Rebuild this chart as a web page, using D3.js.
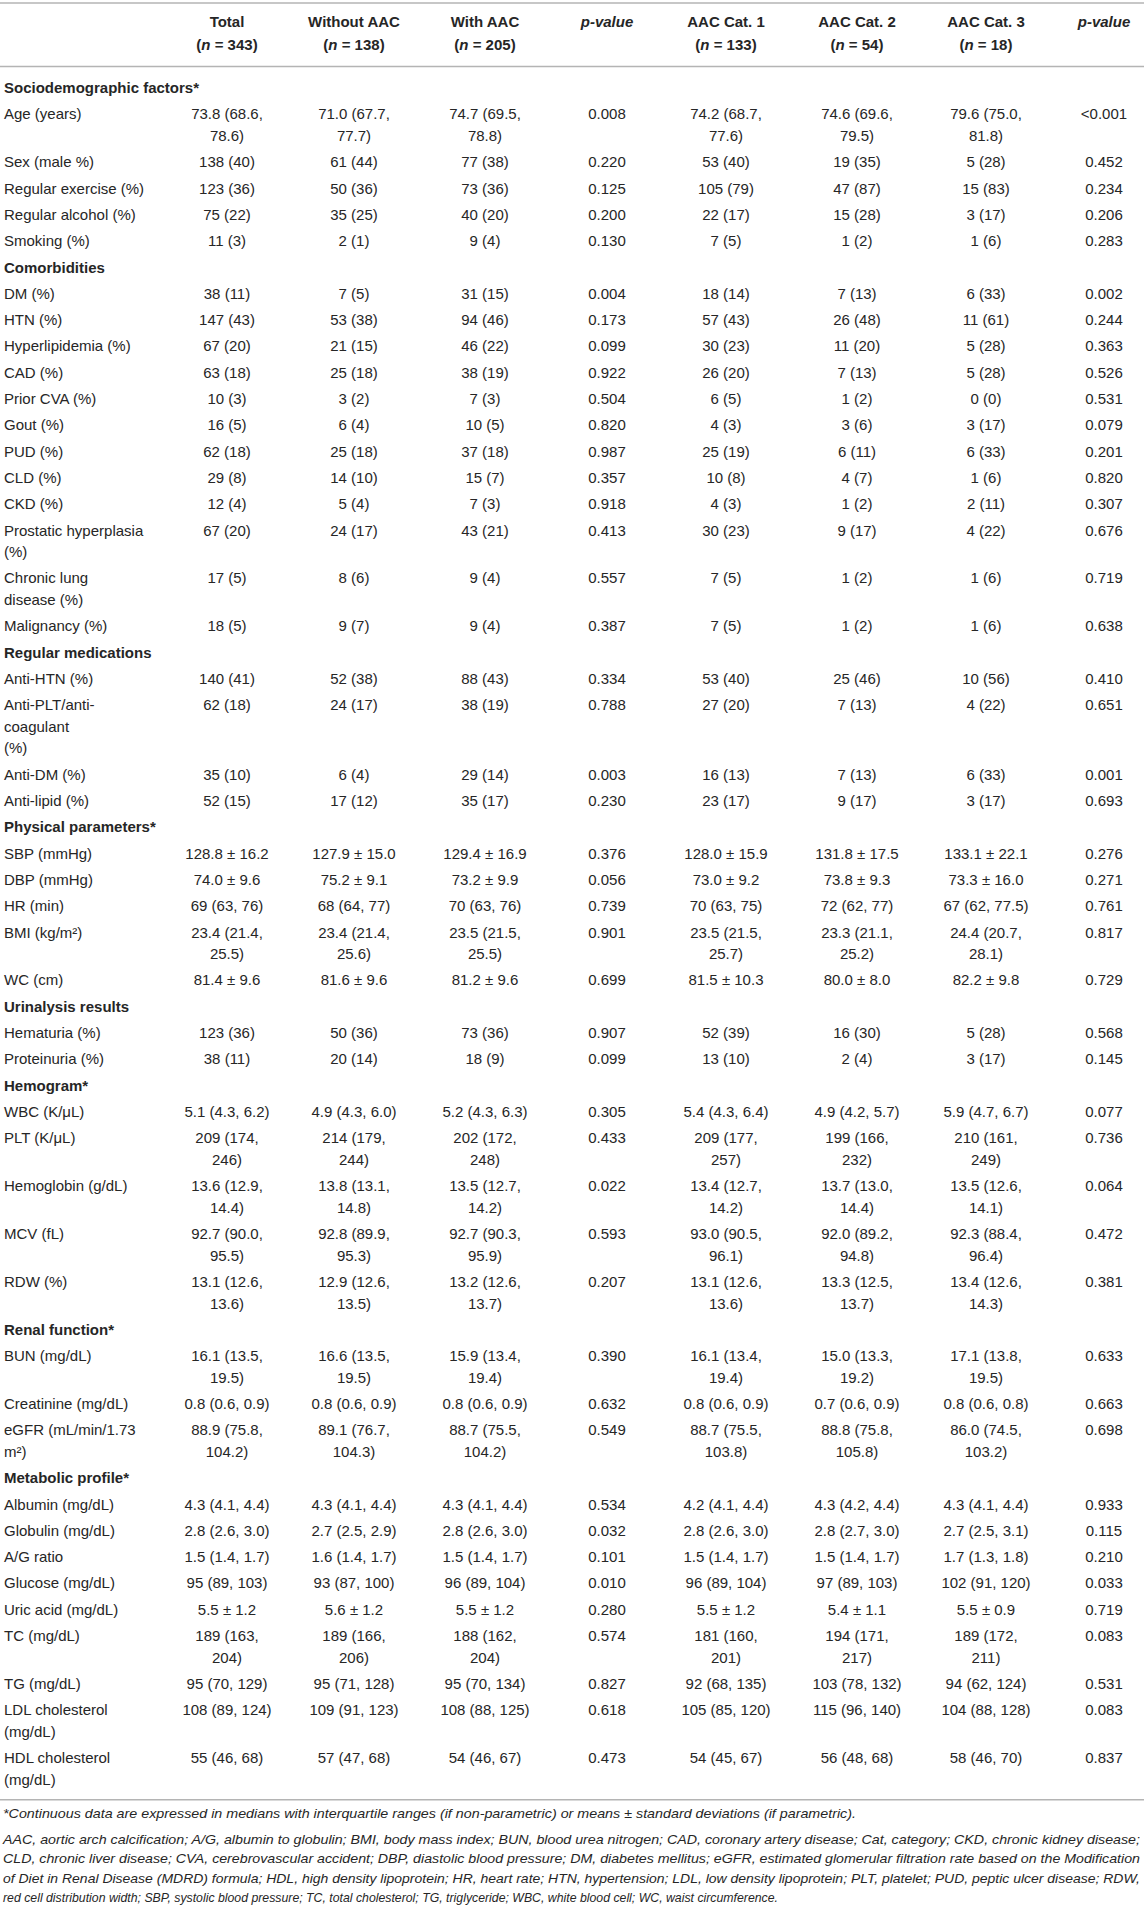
<!DOCTYPE html>
<html><head><meta charset="utf-8">
<script src="https://cdn.jsdelivr.net/npm/d3@7"></script>
<style>html,body{margin:0;padding:0;background:#fff}svg{display:block}</style>
</head><body>
<svg id="t" width="1144" height="1909"></svg>
<script>
// ---------------- DATA ----------------
const columnTitles = ["Total", "Without AAC", "With AAC", "p-value", "AAC Cat. 1", "AAC Cat. 2", "AAC Cat. 3", "p-value"];
const columnNs = ["343", "138", "205", null, "133", "54", "18", null];

const sectionTitles = ["Sociodemographic factors*", "Comorbidities", "Regular medications", "Physical parameters*",
  "Urinalysis results", "Hemogram*", "Renal function*", "Metabolic profile*"];
const sectionSizes = [5, 12, 4, 5, 2, 5, 3, 9];

const rowLabels = ["Age (years)", "Sex (male %)", "Regular exercise (%)", "Regular alcohol (%)", "Smoking (%)",
  "DM (%)", "HTN (%)", "Hyperlipidemia (%)", "CAD (%)", "Prior CVA (%)", "Gout (%)", "PUD (%)", "CLD (%)", "CKD (%)",
  "Prostatic hyperplasia\n(%)", "Chronic lung\ndisease (%)", "Malignancy (%)",
  "Anti-HTN (%)", "Anti-PLT/anti-\ncoagulant\n(%)", "Anti-DM (%)", "Anti-lipid (%)",
  "SBP (mmHg)", "DBP (mmHg)", "HR (min)", "BMI (kg/m²)", "WC (cm)",
  "Hematuria (%)", "Proteinuria (%)",
  "WBC (K/μL)", "PLT (K/μL)", "Hemoglobin (g/dL)", "MCV (fL)", "RDW (%)",
  "BUN (mg/dL)", "Creatinine (mg/dL)", "eGFR (mL/min/1.73\nm²)",
  "Albumin (mg/dL)", "Globulin (mg/dL)", "A/G ratio", "Glucose (mg/dL)", "Uric acid (mg/dL)", "TC (mg/dL)",
  "TG (mg/dL)", "LDL cholesterol\n(mg/dL)", "HDL cholesterol\n(mg/dL)"];

const totalVals = ["73.8 (68.6, 78.6)", "138 (40)", "123 (36)", "75 (22)", "11 (3)",
  "38 (11)", "147 (43)", "67 (20)", "63 (18)", "10 (3)", "16 (5)", "62 (18)", "29 (8)", "12 (4)", "67 (20)", "17 (5)", "18 (5)",
  "140 (41)", "62 (18)", "35 (10)", "52 (15)",
  "128.8 ± 16.2", "74.0 ± 9.6", "69 (63, 76)", "23.4 (21.4, 25.5)", "81.4 ± 9.6",
  "123 (36)", "38 (11)",
  "5.1 (4.3, 6.2)", "209 (174, 246)", "13.6 (12.9, 14.4)", "92.7 (90.0, 95.5)", "13.1 (12.6, 13.6)",
  "16.1 (13.5, 19.5)", "0.8 (0.6, 0.9)", "88.9 (75.8, 104.2)",
  "4.3 (4.1, 4.4)", "2.8 (2.6, 3.0)", "1.5 (1.4, 1.7)", "95 (89, 103)", "5.5 ± 1.2", "189 (163, 204)", "95 (70, 129)", "108 (89, 124)", "55 (46, 68)"];

const withoutVals = ["71.0 (67.7, 77.7)", "61 (44)", "50 (36)", "35 (25)", "2 (1)",
  "7 (5)", "53 (38)", "21 (15)", "25 (18)", "3 (2)", "6 (4)", "25 (18)", "14 (10)", "5 (4)", "24 (17)", "8 (6)", "9 (7)",
  "52 (38)", "24 (17)", "6 (4)", "17 (12)",
  "127.9 ± 15.0", "75.2 ± 9.1", "68 (64, 77)", "23.4 (21.4, 25.6)", "81.6 ± 9.6",
  "50 (36)", "20 (14)",
  "4.9 (4.3, 6.0)", "214 (179, 244)", "13.8 (13.1, 14.8)", "92.8 (89.9, 95.3)", "12.9 (12.6, 13.5)",
  "16.6 (13.5, 19.5)", "0.8 (0.6, 0.9)", "89.1 (76.7, 104.3)",
  "4.3 (4.1, 4.4)", "2.7 (2.5, 2.9)", "1.6 (1.4, 1.7)", "93 (87, 100)", "5.6 ± 1.2", "189 (166, 206)", "95 (71, 128)", "109 (91, 123)", "57 (47, 68)"];

const withVals = ["74.7 (69.5, 78.8)", "77 (38)", "73 (36)", "40 (20)", "9 (4)",
  "31 (15)", "94 (46)", "46 (22)", "38 (19)", "7 (3)", "10 (5)", "37 (18)", "15 (7)", "7 (3)", "43 (21)", "9 (4)", "9 (4)",
  "88 (43)", "38 (19)", "29 (14)", "35 (17)",
  "129.4 ± 16.9", "73.2 ± 9.9", "70 (63, 76)", "23.5 (21.5, 25.5)", "81.2 ± 9.6",
  "73 (36)", "18 (9)",
  "5.2 (4.3, 6.3)", "202 (172, 248)", "13.5 (12.7, 14.2)", "92.7 (90.3, 95.9)", "13.2 (12.6, 13.7)",
  "15.9 (13.4, 19.4)", "0.8 (0.6, 0.9)", "88.7 (75.5, 104.2)",
  "4.3 (4.1, 4.4)", "2.8 (2.6, 3.0)", "1.5 (1.4, 1.7)", "96 (89, 104)", "5.5 ± 1.2", "188 (162, 204)", "95 (70, 134)", "108 (88, 125)", "54 (46, 67)"];

const pValues1 = ["0.008", "0.220", "0.125", "0.200", "0.130",
  "0.004", "0.173", "0.099", "0.922", "0.504", "0.820", "0.987", "0.357", "0.918", "0.413", "0.557", "0.387",
  "0.334", "0.788", "0.003", "0.230",
  "0.376", "0.056", "0.739", "0.901", "0.699",
  "0.907", "0.099",
  "0.305", "0.433", "0.022", "0.593", "0.207",
  "0.390", "0.632", "0.549",
  "0.534", "0.032", "0.101", "0.010", "0.280", "0.574", "0.827", "0.618", "0.473"];

const cat1Vals = ["74.2 (68.7, 77.6)", "53 (40)", "105 (79)", "22 (17)", "7 (5)",
  "18 (14)", "57 (43)", "30 (23)", "26 (20)", "6 (5)", "4 (3)", "25 (19)", "10 (8)", "4 (3)", "30 (23)", "7 (5)", "7 (5)",
  "53 (40)", "27 (20)", "16 (13)", "23 (17)",
  "128.0 ± 15.9", "73.0 ± 9.2", "70 (63, 75)", "23.5 (21.5, 25.7)", "81.5 ± 10.3",
  "52 (39)", "13 (10)",
  "5.4 (4.3, 6.4)", "209 (177, 257)", "13.4 (12.7, 14.2)", "93.0 (90.5, 96.1)", "13.1 (12.6, 13.6)",
  "16.1 (13.4, 19.4)", "0.8 (0.6, 0.9)", "88.7 (75.5, 103.8)",
  "4.2 (4.1, 4.4)", "2.8 (2.6, 3.0)", "1.5 (1.4, 1.7)", "96 (89, 104)", "5.5 ± 1.2", "181 (160, 201)", "92 (68, 135)", "105 (85, 120)", "54 (45, 67)"];

const cat2Vals = ["74.6 (69.6, 79.5)", "19 (35)", "47 (87)", "15 (28)", "1 (2)",
  "7 (13)", "26 (48)", "11 (20)", "7 (13)", "1 (2)", "3 (6)", "6 (11)", "4 (7)", "1 (2)", "9 (17)", "1 (2)", "1 (2)",
  "25 (46)", "7 (13)", "7 (13)", "9 (17)",
  "131.8 ± 17.5", "73.8 ± 9.3", "72 (62, 77)", "23.3 (21.1, 25.2)", "80.0 ± 8.0",
  "16 (30)", "2 (4)",
  "4.9 (4.2, 5.7)", "199 (166, 232)", "13.7 (13.0, 14.4)", "92.0 (89.2, 94.8)", "13.3 (12.5, 13.7)",
  "15.0 (13.3, 19.2)", "0.7 (0.6, 0.9)", "88.8 (75.8, 105.8)",
  "4.3 (4.2, 4.4)", "2.8 (2.7, 3.0)", "1.5 (1.4, 1.7)", "97 (89, 103)", "5.4 ± 1.1", "194 (171, 217)", "103 (78, 132)", "115 (96, 140)", "56 (48, 68)"];

const cat3Vals = ["79.6 (75.0, 81.8)", "5 (28)", "15 (83)", "3 (17)", "1 (6)",
  "6 (33)", "11 (61)", "5 (28)", "5 (28)", "0 (0)", "3 (17)", "6 (33)", "1 (6)", "2 (11)", "4 (22)", "1 (6)", "1 (6)",
  "10 (56)", "4 (22)", "6 (33)", "3 (17)",
  "133.1 ± 22.1", "73.3 ± 16.0", "67 (62, 77.5)", "24.4 (20.7, 28.1)", "82.2 ± 9.8",
  "5 (28)", "3 (17)",
  "5.9 (4.7, 6.7)", "210 (161, 249)", "13.5 (12.6, 14.1)", "92.3 (88.4, 96.4)", "13.4 (12.6, 14.3)",
  "17.1 (13.8, 19.5)", "0.8 (0.6, 0.8)", "86.0 (74.5, 103.2)",
  "4.3 (4.1, 4.4)", "2.7 (2.5, 3.1)", "1.7 (1.3, 1.8)", "102 (91, 120)", "5.5 ± 0.9", "189 (172, 211)", "94 (62, 124)", "104 (88, 128)", "58 (46, 70)"];

const pValues2 = ["<0.001", "0.452", "0.234", "0.206", "0.283",
  "0.002", "0.244", "0.363", "0.526", "0.531", "0.079", "0.201", "0.820", "0.307", "0.676", "0.719", "0.638",
  "0.410", "0.651", "0.001", "0.693",
  "0.276", "0.271", "0.761", "0.817", "0.729",
  "0.568", "0.145",
  "0.077", "0.736", "0.064", "0.472", "0.381",
  "0.633", "0.663", "0.698",
  "0.933", "0.115", "0.210", "0.033", "0.719", "0.083", "0.531", "0.083", "0.837"];

const footnoteLines = [
  "*Continuous data are expressed in medians with interquartile ranges (if non-parametric) or means ± standard deviations (if parametric).",
  "AAC, aortic arch calcification; A/G, albumin to globulin; BMI, body mass index; BUN, blood urea nitrogen; CAD, coronary artery disease; Cat, category; CKD, chronic kidney disease;",
  "CLD, chronic liver disease; CVA, cerebrovascular accident; DBP, diastolic blood pressure; DM, diabetes mellitus; eGFR, estimated glomerular filtration rate based on the Modification",
  "of Diet in Renal Disease (MDRD) formula; HDL, high density lipoprotein; HR, heart rate; HTN, hypertension; LDL, low density lipoprotein; PLT, platelet; PUD, peptic ulcer disease; RDW,",
  "red cell distribution width; SBP, systolic blood pressure; TC, total cholesterol; TG, triglyceride; WBC, white blood cell; WC, waist circumference."
];

// ---------------- LAYOUT ----------------
const W = 1144;
const FONT = "'Liberation Sans', Arial, Helvetica, sans-serif";
const FS = 15;
const TEXT = "#262626";
const RULE = "#b4b4b4";
const ROW_H = 26.3, LINE_H = 21.6, BASE = 18.3;
const CELL_MAX = 93;

const valueColumns = [totalVals, withoutVals, withVals, pValues1, cat1Vals, cat2Vals, cat3Vals, pValues2];
const colIdx = d3.range(columnTitles.length);
const x = d3.scaleOrdinal().domain(colIdx).range([227, 354, 485, 607, 726, 857, 986, 1104]);

const svg = d3.select("#t").attr("font-family", FONT).attr("fill", TEXT);
svg.append("rect").attr("width", W).attr("height", 1909).attr("fill", "#fff");

const meas = svg.append("text").attr("font-size", FS).attr("visibility", "hidden");
function tw(s) { meas.text(s); return meas.node().getComputedTextLength(); }
function wrap(s, maxW) {
  if (tw(s) <= maxW) return [s];
  const words = s.split(" "), lines = [];
  let cur = "";
  words.forEach(w => {
    const t = cur ? cur + " " + w : w;
    if (cur && tw(t) > maxW) { lines.push(cur); cur = w; } else cur = t;
  });
  lines.push(cur);
  return lines;
}

// build rows
const rows = [];
let di = 0;
sectionTitles.forEach((title, si) => {
  rows.push({ section: true, label: [title], cells: [] });
  for (let k = 0; k < sectionSizes[si]; k++, di++) {
    rows.push({ section: false, label: rowLabels[di].split("\n"), cells: valueColumns.map(col => wrap(col[di], CELL_MAX)) });
  }
});
let yTop = 74.85;
rows.forEach(r => {
  r.n = d3.max([r.label.length, ...r.cells.map(c => c.length)]);
  r.y = yTop;
  r.h = ROW_H + (r.n - 1) * LINE_H;
  yTop += r.h;
});
meas.remove();

// rules
const tableBottom = yTop + 7;
svg.append("g").selectAll("line").data([3, 66.5, tableBottom]).join("line")
  .attr("x1", 0).attr("x2", W).attr("y1", d => d).attr("y2", d => d)
  .attr("stroke", RULE).attr("stroke-width", 1.6);

// header
const head = svg.append("g").attr("font-size", FS).attr("font-weight", "bold").attr("text-anchor", "middle");
colIdx.forEach(i => {
  const t1 = head.append("text").attr("x", x(i)).attr("y", 27);
  if (columnTitles[i] === "p-value") t1.attr("font-style", "italic");
  t1.text(columnTitles[i]);
  if (columnNs[i]) {
    const t2 = head.append("text").attr("x", x(i)).attr("y", 50);
    t2.append("tspan").text("(");
    t2.append("tspan").attr("font-style", "italic").text("n");
    t2.append("tspan").text(" = " + columnNs[i] + ")");
  }
});

// body
const body = svg.append("g").attr("font-size", FS);
const rg = body.selectAll("g.row").data(rows).join("g").attr("class", "row")
  .attr("transform", d => `translate(0,${d.y})`);

rg.append("text")
  .attr("x", 4).attr("y", BASE)
  .attr("font-weight", d => d.section ? "bold" : null)
  .selectAll("tspan").data(d => d.label).join("tspan")
  .attr("x", 4).attr("y", (d, i) => BASE + i * LINE_H).text(d => d);

rg.each(function (r) {
  if (r.section) return;
  const g = d3.select(this);
  r.cells.forEach((lines, ci) => {
    const t = g.append("text").attr("text-anchor", "middle");
    t.selectAll("tspan").data(lines).join("tspan")
      .attr("x", x(ci)).attr("y", (d, i) => BASE + i * LINE_H).text(d => d);
  });
});

// footnotes
const footTargets = [853, 1137, 1137, 1137, 775];
const footY = [18, 44, 63.5, 83, 102.5];
const foot = svg.append("g").attr("font-size", 13.5).attr("font-style", "italic");
foot.selectAll("text").data(footnoteLines).join("text")
  .attr("x", 3).attr("y", (d, i) => tableBottom + footY[i])
  .text(d => d)
  .each(function (d, i) {
    const natural = this.getComputedTextLength();
    const target = footTargets[i];
    if (Math.abs(natural - target) > 2) {
      d3.select(this).attr("textLength", target).attr("lengthAdjust", "spacingAndGlyphs");
    }
  });
</script>
</body></html>
